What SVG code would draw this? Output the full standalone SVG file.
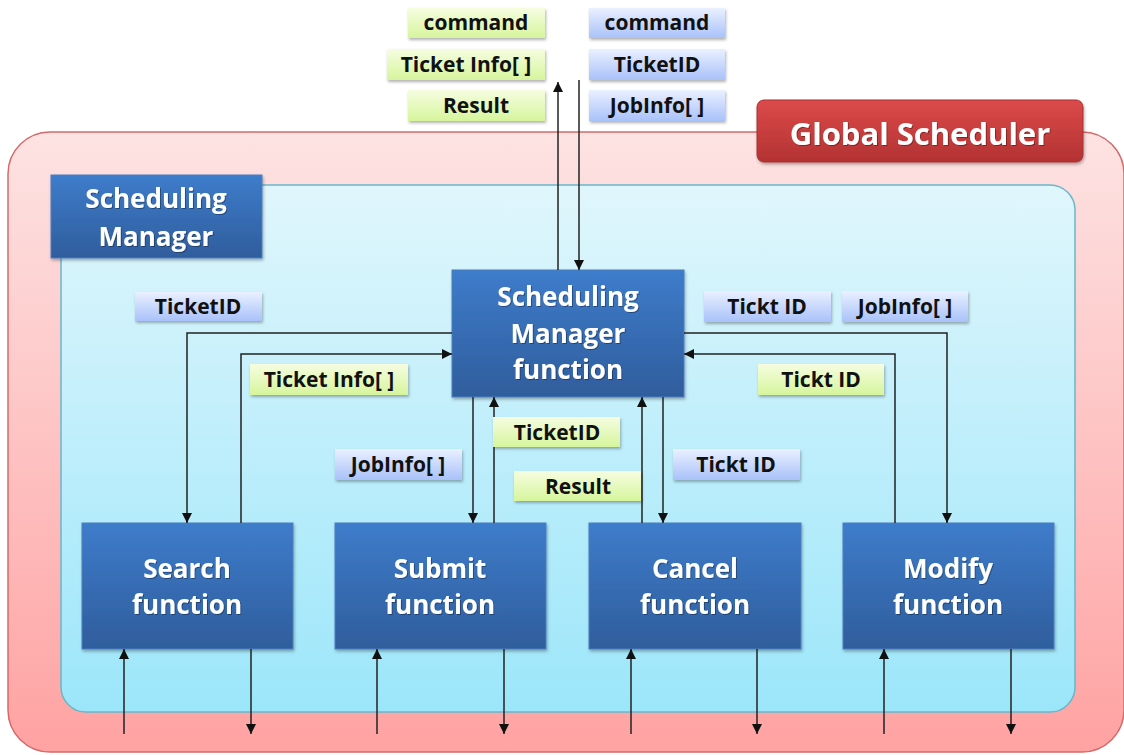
<svg xmlns="http://www.w3.org/2000/svg" width="1124" height="755" viewBox="0 0 1124 755">
<defs>
<linearGradient id="gPink" x1="0" y1="0" x2="0" y2="1"><stop offset="0" stop-color="#fde3e3"/><stop offset="1" stop-color="#ffa2a2"/></linearGradient>
<linearGradient id="gSky" x1="0" y1="0" x2="0" y2="1"><stop offset="0" stop-color="#e0f6fc"/><stop offset="1" stop-color="#9ce6fa"/></linearGradient>
<linearGradient id="gBlue" x1="0" y1="0" x2="0" y2="1"><stop offset="0" stop-color="#3e7ccb"/><stop offset="1" stop-color="#2f5d9c"/></linearGradient>
<linearGradient id="gRed" x1="0" y1="0" x2="0" y2="1"><stop offset="0" stop-color="#dc4a4a"/><stop offset="1" stop-color="#b33232"/></linearGradient>
<linearGradient id="gGreen" x1="0" y1="0" x2="0" y2="1"><stop offset="0" stop-color="#f6fde0"/><stop offset="1" stop-color="#d6f59c"/></linearGradient>
<linearGradient id="gLav" x1="0" y1="0" x2="0" y2="1"><stop offset="0" stop-color="#eaf0ff"/><stop offset="1" stop-color="#a9c2fa"/></linearGradient>
<filter id="sh" x="-10%" y="-10%" width="130%" height="140%"><feDropShadow dx="1" dy="2" stdDeviation="1.5" flood-color="#000" flood-opacity="0.3"/></filter>
<filter id="tsh" x="-5%" y="-10%" width="115%" height="130%"><feDropShadow dx="1" dy="1" stdDeviation="0.6" flood-color="#000" flood-opacity="0.35"/></filter>
<marker id="ah" viewBox="0 0 10 10" refX="10" refY="5" markerWidth="10" markerHeight="10" markerUnits="userSpaceOnUse" orient="auto"><path d="M0,0 L10,5 L0,10 z" fill="#111"/></marker>
</defs>
<style>
.box{fill:url(#gBlue);stroke:#4a7fc0;stroke-width:1;filter:url(#sh)}
.bt{font-family:"Open Sans","DejaVu Sans",sans-serif;font-weight:bold;font-size:26px;fill:#fff;text-anchor:middle;filter:url(#tsh)}
.gt{font-size:31px}
.gl{fill:url(#gGreen);filter:url(#sh)}
.bl{fill:url(#gLav);filter:url(#sh)}
.lt{font-family:"Open Sans","DejaVu Sans",sans-serif;font-weight:bold;font-size:21px;fill:#111;text-anchor:middle}
.ca{fill:none;stroke:#222;stroke-width:1.5;marker-end:url(#ah)}
</style>
<g id="global-scheduler-frame">
<rect x="8" y="132" width="1116" height="620" rx="42" fill="url(#gPink)" stroke="#d46a6a" stroke-width="1.5"/>
</g>
<g id="scheduling-manager-frame">
<rect x="61" y="185" width="1014" height="527" rx="25" fill="url(#gSky)" stroke="#6ab6ca" stroke-width="1.5"/>
</g>
<g id="global-scheduler-title">
<rect x="757" y="100" width="326" height="62" rx="7" fill="url(#gRed)" stroke="#a83030" stroke-width="1" filter="url(#sh)"/>
<text x="920" y="145" class="bt gt">Global Scheduler</text>
</g>
<g id="scheduling-manager-title">
<rect x="51" y="175" width="211" height="83" class="box"/>
<text x="156" y="208" class="bt">Scheduling</text>
<text x="156" y="246" class="bt">Manager</text>
</g>
<g id="sm-function">
<rect x="452" y="270" width="232" height="127" class="box"/>
<text x="568" y="306" class="bt">Scheduling</text>
<text x="568" y="343" class="bt">Manager</text>
<text x="568" y="379" class="bt">function</text>
</g>
<g id="search">
<rect x="82" y="523" width="211" height="126" class="box"/>
<text x="187" y="578" class="bt">Search</text>
<text x="187" y="614" class="bt">function</text>
</g>
<g id="submit">
<rect x="335" y="523" width="211" height="126" class="box"/>
<text x="440" y="578" class="bt">Submit</text>
<text x="440" y="614" class="bt">function</text>
</g>
<g id="cancel">
<rect x="589" y="523" width="212" height="126" class="box"/>
<text x="695" y="578" class="bt">Cancel</text>
<text x="695" y="614" class="bt">function</text>
</g>
<g id="modify">
<rect x="843" y="523" width="211" height="126" class="box"/>
<text x="948" y="578" class="bt">Modify</text>
<text x="948" y="614" class="bt">function</text>
</g>
<g id="connectors">
<path class="ca" d="M558,270 V82"/>
<path class="ca" d="M579,80 V270"/>
<path class="ca" d="M452,333 H187 V523"/>
<path class="ca" d="M241,523 V354 H452"/>
<path class="ca" d="M684,333 H947 V523"/>
<path class="ca" d="M895,523 V354 H684"/>
<path class="ca" d="M473,397 V523"/>
<path class="ca" d="M494,523 V397"/>
<path class="ca" d="M642,523 V397"/>
<path class="ca" d="M663,397 V523"/>
<path class="ca" d="M124,734 V649"/>
<path class="ca" d="M251,649 V734"/>
<path class="ca" d="M377,734 V649"/>
<path class="ca" d="M504,649 V734"/>
<path class="ca" d="M631,734 V649"/>
<path class="ca" d="M757,649 V734"/>
<path class="ca" d="M884,734 V649"/>
<path class="ca" d="M1011,649 V734"/>
</g>
<g id="labels">
<g id="lbl-top-command-g"><rect x="408" y="8" width="137" height="30" class="gl"/><text x="476" y="30" class="lt">command</text></g>
<g id="lbl-top-ticketinfo-g"><rect x="387" y="49" width="158" height="31" class="gl"/><text x="466" y="72" class="lt">Ticket Info[ ]</text></g>
<g id="lbl-top-result-g"><rect x="408" y="90" width="137" height="31" class="gl"/><text x="476" y="113" class="lt">Result</text></g>
<g id="lbl-top-command-b"><rect x="589" y="8" width="136" height="30" class="bl"/><text x="657" y="30" class="lt">command</text></g>
<g id="lbl-top-ticketid-b"><rect x="589" y="49" width="136" height="31" class="bl"/><text x="657" y="72" class="lt">TicketID</text></g>
<g id="lbl-top-jobinfo-b"><rect x="589" y="90" width="136" height="31" class="bl"/><text x="657" y="113" class="lt">JobInfo[ ]</text></g>
<g id="lbl-search-ticketid"><rect x="135" y="292" width="127" height="29" class="bl"/><text x="198" y="314" class="lt">TicketID</text></g>
<g id="lbl-search-ticketinfo"><rect x="250" y="364" width="158" height="31" class="gl"/><text x="329" y="387" class="lt">Ticket Info[ ]</text></g>
<g id="lbl-modify-ticktid-b"><rect x="704" y="291" width="127" height="31" class="bl"/><text x="767" y="314" class="lt">Tickt ID</text></g>
<g id="lbl-modify-jobinfo"><rect x="842" y="291" width="126" height="31" class="bl"/><text x="905" y="314" class="lt">JobInfo[ ]</text></g>
<g id="lbl-modify-ticktid-g"><rect x="758" y="364" width="126" height="31" class="gl"/><text x="821" y="387" class="lt">Tickt ID</text></g>
<g id="lbl-submit-ticketid"><rect x="493" y="417" width="127" height="30" class="gl"/><text x="557" y="440" class="lt">TicketID</text></g>
<g id="lbl-submit-jobinfo"><rect x="335" y="449" width="127" height="31" class="bl"/><text x="398" y="472" class="lt">JobInfo[ ]</text></g>
<g id="lbl-cancel-result"><rect x="514" y="471" width="127" height="30" class="gl"/><text x="578" y="494" class="lt">Result</text></g>
<g id="lbl-cancel-ticktid"><rect x="673" y="449" width="127" height="31" class="bl"/><text x="736" y="472" class="lt">Tickt ID</text></g>
</g>
</svg>
